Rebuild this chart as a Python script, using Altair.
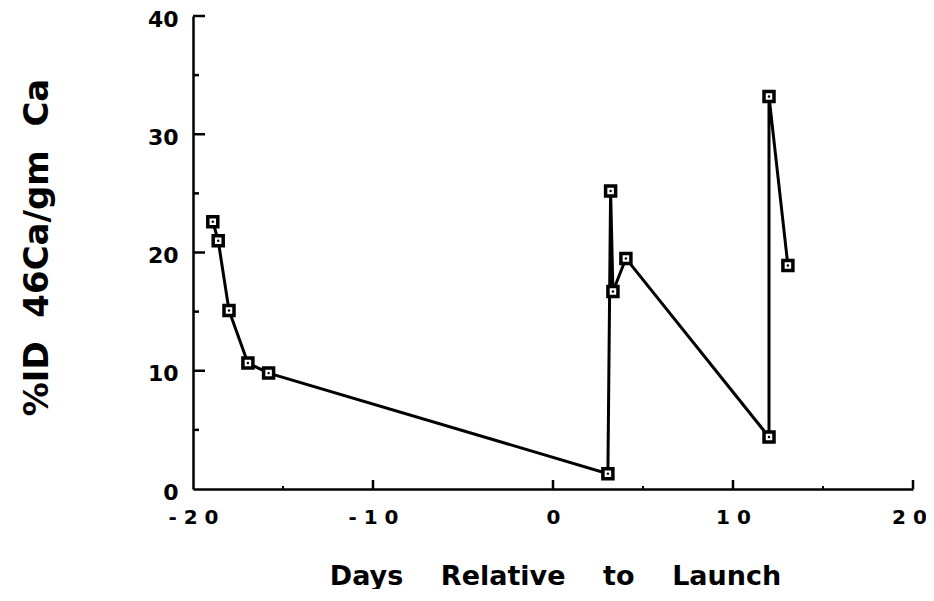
import altair as alt
import pandas as pd

# ---- data ----
days = [-18.9, -18.6, -18.0, -16.95, -15.8, 3.05, 3.2, 3.33, 4.05, 12.0, 12.0, 13.05]
pct_id = [22.6, 21.0, 15.1, 10.65, 9.8, 1.3, 25.2, 16.7, 19.5, 4.4, 33.2, 18.9]
order = list(range(len(days)))

x_tick_values = [-20, -10, 0, 10, 20]
x_tick_labels = ["- 2 0", "- 1 0", "0", "1 0", "2 0"]
y_tick_values = [0, 10, 20, 30, 40]
y_tick_labels = ["0", "10", "20", "30", "40"]
x_major_inner = [-10, 0, 10, 20]
x_minor_inner = [-15, 5, 15]
y_major_inner = [10, 20, 30, 40]
y_minor_inner = [5, 15, 25, 35]

x_title = "Days\u00a0\u00a0\u00a0 Relative\u00a0\u00a0\u00a0 to\u00a0\u00a0\u00a0 Launch"
y_title = "%ID\u00a0 46Ca/gm\u00a0 Ca"

df = pd.DataFrame({"x": days, "y": pct_id, "o": order})

FONT = "DejaVu Sans"


def label_expr(values, labels):
    vals = ",".join(str(v) for v in values)
    labs = ",".join("'" + l + "'" for l in labels)
    return f"[{labs}][indexof([{vals}], datum.value)]"


xscale = alt.Scale(domain=[-20, 20], nice=False, zero=False)
yscale = alt.Scale(domain=[0, 40], nice=False, zero=False)

x_axis = alt.Axis(
    values=x_tick_values,
    labelExpr=label_expr(x_tick_values, x_tick_labels),
    ticks=False,
    grid=False,
    domainColor="black",
    domainWidth=2.5,
    labelFont=FONT,
    labelFontWeight="bold",
    labelFontSize=20,
    labelColor="black",
    labelPadding=18,
    labelOffset={"condition": {"test": "datum.value == 20", "value": -4}, "value": 0},
    labelFlush=False,
    labelOverlap=False,
    title=x_title,
    titleFont=FONT,
    titleFontSize=27,
    titleFontWeight="bold",
    titleColor="black",
    titleX=362,
    titleY=95,
    titleAlign="center",
    titleBaseline="alphabetic",
)

y_axis = alt.Axis(
    values=y_tick_values,
    labelExpr=label_expr(y_tick_values, y_tick_labels),
    ticks=False,
    grid=False,
    domainColor="black",
    domainWidth=2.5,
    labelFont=FONT,
    labelFontWeight="bold",
    labelFontSize=22,
    labelColor="black",
    labelPadding=15,
    labelOffset=3,
    labelBaseline="middle",
    labelFlush=False,
    labelOverlap=False,
    title=y_title,
    titleFont=FONT,
    titleFontSize=34,
    titleFontWeight="bold",
    titleColor="black",
    titleAngle=270,
    titleX=-146,
    titleY=231,
    titleAlign="center",
    titleBaseline="alphabetic",
)

base = alt.Chart(df)

line = base.mark_line(color="black", strokeWidth=3).encode(
    x=alt.X("x:Q", scale=xscale, axis=x_axis),
    y=alt.Y("y:Q", scale=yscale, axis=y_axis),
    order="o:Q",
)

squares = base.mark_point(
    shape="square", filled=True, fill="white", stroke="black",
    strokeWidth=3.5, size=100, opacity=1
).encode(
    x=alt.X("x:Q", scale=xscale),
    y=alt.Y("y:Q", scale=yscale),
)

dots = base.mark_point(shape="circle", filled=True, color="black", size=6, opacity=1).encode(
    x=alt.X("x:Q", scale=xscale),
    y=alt.Y("y:Q", scale=yscale),
)

ymaj = alt.Chart(pd.DataFrame({"y": y_major_inner})).mark_rule(color="black", strokeWidth=2.5).encode(
    y=alt.Y("y:Q", scale=yscale), x=alt.value(0), x2=alt.value(12)
)
ymin = alt.Chart(pd.DataFrame({"y": y_minor_inner})).mark_rule(color="black", strokeWidth=2.5).encode(
    y=alt.Y("y:Q", scale=yscale), x=alt.value(0), x2=alt.value(6)
)
xmaj = alt.Chart(pd.DataFrame({"x": x_major_inner})).mark_rule(color="black", strokeWidth=2.5).encode(
    x=alt.X("x:Q", scale=xscale), y=alt.value(473), y2=alt.value(464)
)
xmin = alt.Chart(pd.DataFrame({"x": x_minor_inner})).mark_rule(color="black", strokeWidth=2).encode(
    x=alt.X("x:Q", scale=xscale), y=alt.value(473), y2=alt.value(470)
)

chart = alt.layer(line, ymaj, ymin, xmaj, xmin, squares, dots).properties(
    width=720,
    height=473,
    autosize=alt.AutoSizeParams(type="none"),
    padding={"left": 185, "top": 8, "right": 13, "bottom": 100},
    background="white",
).configure_view(stroke=None)

chart.save("out.html", embed_options={"renderer": "svg", "actions": False})
